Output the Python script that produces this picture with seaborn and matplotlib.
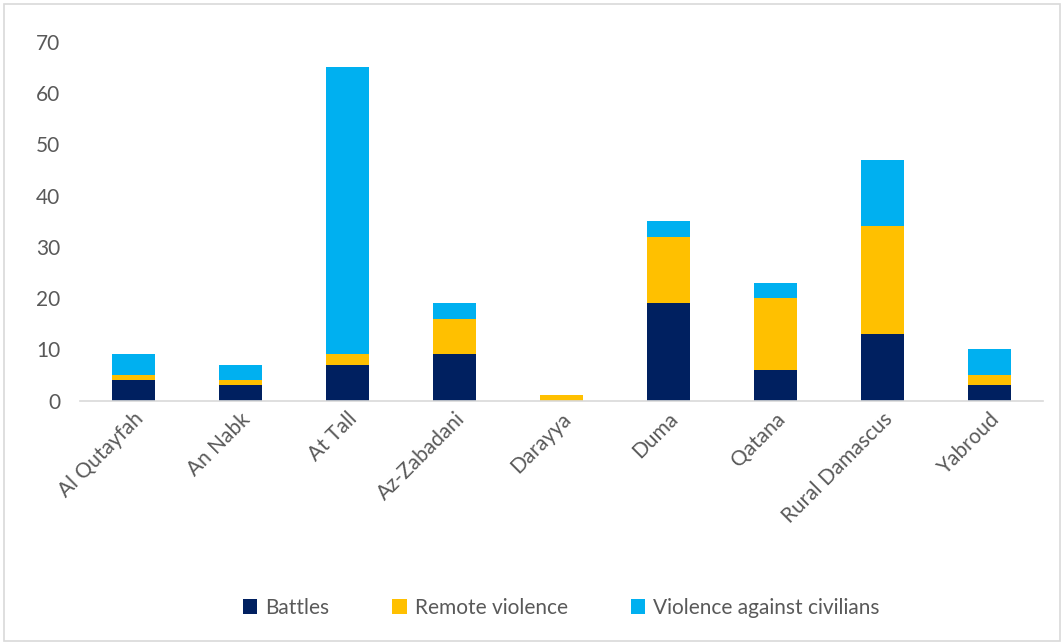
import pandas as pd
import matplotlib.pyplot as plt
import seaborn as sns

# Data
locations = ['Al Qutayfah', 'An Nabk', 'At Tall', 'Az-Zabadani', 'Darayya',
             'Duma', 'Qatana', 'Rural Damascus', 'Yabroud']
battles = [4, 3, 7, 9, 0, 19, 6, 13, 3]
remote_violence = [1, 1, 2, 7, 1, 13, 14, 21, 2]
violence_civilians = [4, 3, 56, 3, 0, 3, 3, 13, 5]

series_names = ['Battles', 'Remote violence', 'Violence against civilians']
colors = ['#002060', '#FFC000', '#00B0F0']

df = pd.DataFrame({'location': locations, 'Battles': battles,
                   'Remote violence': remote_violence,
                   'Violence against civilians': violence_civilians})

sns.set_style('white')
plt.rcParams['font.family'] = ['Lato', 'DejaVu Sans']

fig = plt.figure(figsize=(10.64, 6.44), dpi=100)
ax = fig.add_axes([0.075, 0.378, 0.905, 0.557])

bottom = pd.Series([0] * len(df))
for name, color in zip(series_names, colors):
    sns.barplot(data=df, x='location', y=name, color=color, bottom=bottom,
                width=0.4, ax=ax, label=name, saturation=1, linewidth=0)
    bottom = bottom + df[name]

ax.set_ylim(0, 70)
ax.set_yticks(range(0, 71, 10))
ax.set_xlim(-0.5, len(locations) - 0.5)
ax.set_xlabel('')
ax.set_ylabel('')
for side in ['top', 'right', 'left']:
    ax.spines[side].set_visible(False)
ax.spines['bottom'].set_color('#d9d9d9')
ax.spines['bottom'].set_linewidth(1.2)
ax.tick_params(axis='y', length=0, labelsize=15, labelcolor='#595959', pad=14)
ax.tick_params(axis='x', length=0, labelsize=15, labelcolor='#595959', pad=6)
plt.setp(ax.get_xticklabels(), rotation=45, ha='right', rotation_mode='anchor')

ax.legend(loc='center', bbox_to_anchor=(0.5, -0.577), ncol=3, frameon=False,
          fontsize=15, labelcolor='#595959', handlelength=0.7, handleheight=0.7,
          columnspacing=3.0, handletextpad=0.4)

# light border around the whole chart
fig.patches.append(plt.Rectangle((0.004, 0.004), 0.992, 0.99, transform=fig.transFigure,
                                 fill=False, edgecolor='#d9d9d9', linewidth=1.2))

fig.savefig('out.png', dpi=100)
plt.close()
